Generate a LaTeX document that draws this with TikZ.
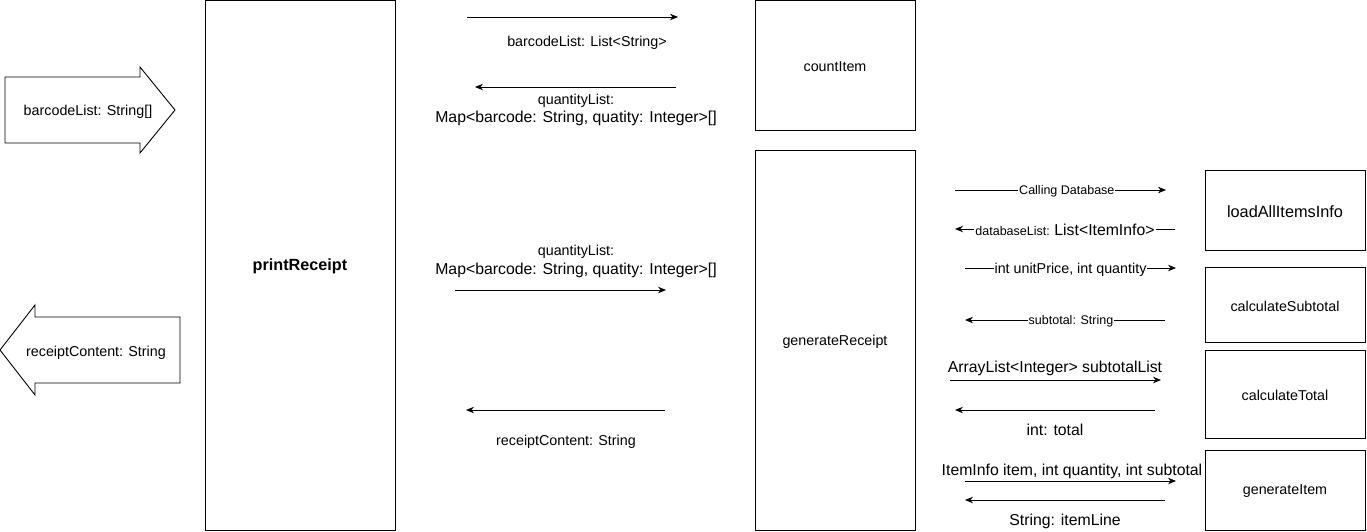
\documentclass[tikz,border=0pt]{standalone}
\usepackage{fontspec}
\setmainfont{Liberation Sans}
\usetikzlibrary{arrows.meta,shapes.arrows}
\begin{document}
\begin{tikzpicture}[x=1pt,y=-1pt,
  box/.style={draw,line width=0.9pt,inner sep=0pt},
  msg/.style={line width=0.9pt,-{Stealth[length=8pt,width=6.5pt]}},
  lbl/.style={font=\fontsize{14.3}{16}\selectfont,inner sep=1pt,yshift=-1.5pt},
  big/.style={font=\fontsize{15.8}{18}\selectfont,inner sep=1pt,yshift=-1.5pt},
  sml/.style={font=\fontsize{12.5}{14}\selectfont,inner sep=1pt,yshift=-1.5pt},
  inl/.style={fill=white,inner sep=1pt}]
\useasboundingbox (0,0) rectangle (1367,531);
% boxes
\node[box,minimum width=190pt,minimum height=530pt] (pr) at (300,265) {};
\node[font=\fontsize{16.2}{18}\selectfont\bfseries,yshift=-1.5pt] at (pr.center) {printReceipt};
\node[box,minimum width=160pt,minimum height=130pt] (ci) at (835,65.5) {};
\node[lbl] at (ci.center) {countItem};
\node[box,minimum width=160pt,minimum height=380pt] (gr) at (835,340) {};
\node[lbl] at (gr.center) {generateReceipt};
\node[box,minimum width=160pt,minimum height=80pt] (la) at (1285,210) {};
\node[font=\fontsize{16.3}{18}\selectfont,yshift=-1.5pt] at (la.center) {loadAllItemsInfo};
\node[box,minimum width=160pt,minimum height=75pt] (cs) at (1285,304.5) {};
\node[lbl] at (cs.center) {calculateSubtotal};
\node[box,minimum width=160pt,minimum height=88pt] (ct) at (1285,394) {};
\node[lbl] at (ct.center) {calculateTotal};
\node[box,minimum width=160pt,minimum height=80pt] (gi) at (1285,490) {};
\node[lbl] at (gi.center) {generateItem};
% block arrows
\draw[line width=0.9pt] (5,77) -- (140,77) -- (140,67) -- (175,110) -- (140,153) -- (140,143) -- (5,143) -- cycle;
\node[lbl] (inA) at (88,110) {barcodeList: String[]};
\draw[line width=0.9pt] (180,317) -- (35,317) -- (35,305) -- (0,350) -- (35,395) -- (35,383) -- (180,383) -- cycle;
\node[lbl] (outA) at (96,351) {receiptContent: String};
% coordinates
\coordinate (a1s) at (467,17); \coordinate (a1e) at (678,17);
\coordinate (a2s) at (676,87); \coordinate (a2e) at (475,87);
\coordinate (a3s) at (455,290); \coordinate (a3e) at (666,290);
\coordinate (a4s) at (665,410); \coordinate (a4e) at (466,410);
\coordinate (b1s) at (955,190); \coordinate (b1e) at (1166,190);
\coordinate (b2s) at (1175,229); \coordinate (b2e) at (955,229);
\coordinate (b3s) at (965,268); \coordinate (b3e) at (1176,268);
\coordinate (b4s) at (1165,320); \coordinate (b4e) at (965,320);
\coordinate (b5s) at (950,380); \coordinate (b5e) at (1161,380);
\coordinate (b6s) at (1155,410); \coordinate (b6e) at (955,410);
\coordinate (b7s) at (965,481); \coordinate (b7e) at (1176,481);
\coordinate (b8s) at (1165,500); \coordinate (b8e) at (965,500);
% left messages
\draw[msg] (a1s) -- (a1e);
\node[lbl] (l1) at (587,41) {barcodeList: List<String>};
\draw[msg] (a2s) -- (a2e);
\node[lbl] (l2a) at (576,99) {quantityList:};
\node[big] (l2b) at (576,117) {Map<barcode: String, quatity: Integer>[]};
\draw[msg] (a3s) -- (a3e);
\node[lbl] (l3a) at (576,250) {quantityList:};
\node[big] (l3b) at (576,269) {Map<barcode: String, quatity: Integer>[]};
\draw[msg] (a4s) -- (a4e);
\node[lbl] (l4) at (566,440) {receiptContent: String};
% right messages
\draw[msg] (b1s) -- node[sml,inl,pos=0.53] {Calling Database} (b1e);
\draw[msg] (b2s) -- node[inl,pos=0.5,yshift=-1pt] {\fontsize{12.5}{14}\selectfont databaseList: \fontsize{15.8}{18}\selectfont List<ItemInfo>} (b2e);
\draw[msg] (b3s) -- node[lbl,inl,pos=0.5] {int unitPrice, int quantity} (b3e);
\draw[msg] (b4s) -- node[sml,inl,pos=0.47] {subtotal: String} (b4e);
\draw[msg] (b5s) -- (b5e);
\node[big] (l5) at (1055,367) {ArrayList<Integer> subtotalList};
\draw[msg] (b6s) -- (b6e);
\node[big] (l6) at (1055,428) {int: total};
\draw[msg] (b7s) -- (b7e);
\node[big] (l7) at (1072,470) {ItemInfo item, int quantity, int subtotal};
\draw[msg] (b8s) -- (b8e);
\node[big] (l8) at (1065,520) {String: itemLine};
\end{tikzpicture}
\end{document}
